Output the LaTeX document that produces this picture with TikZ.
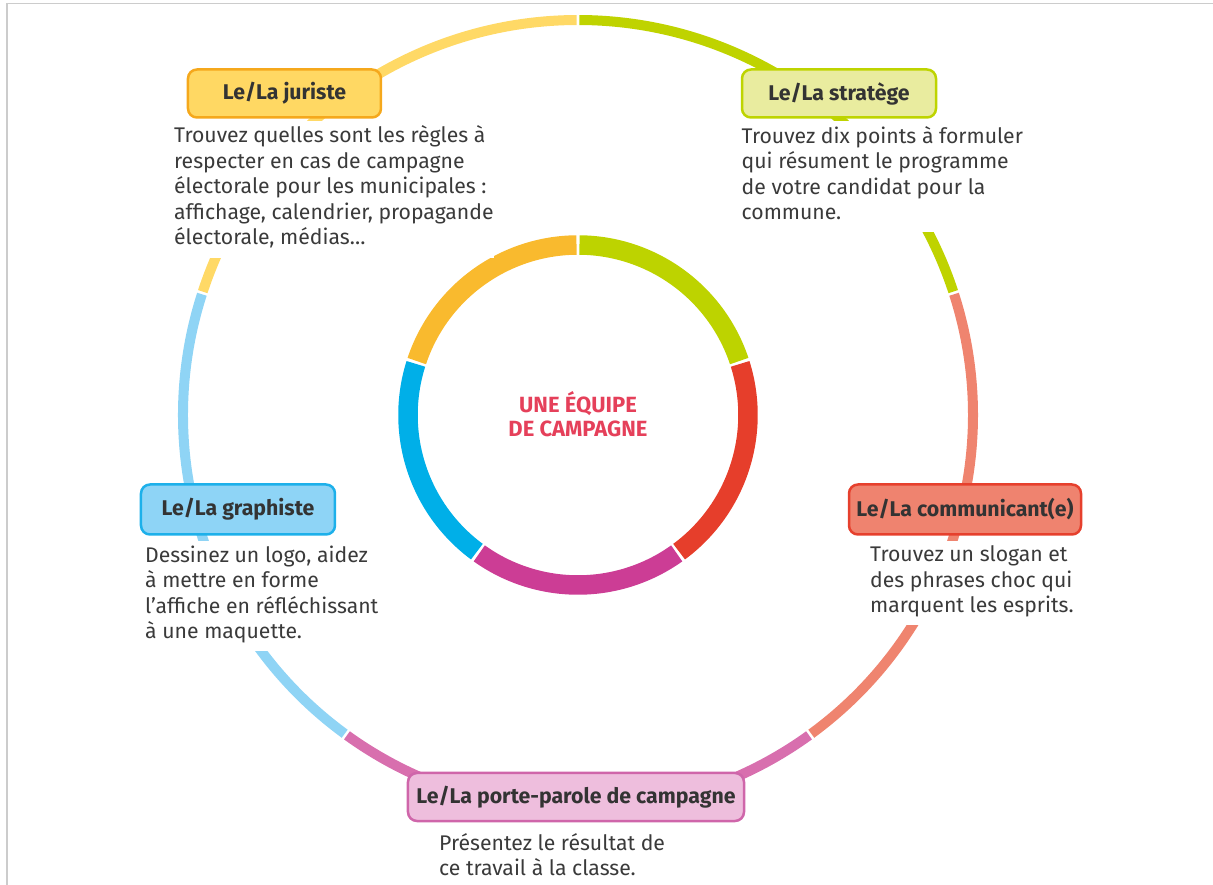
\documentclass[tikz,border=0pt]{standalone}
\usepackage{fontspec}
\setmainfont{Fira Sans}
\usepackage{xcolor}
\usepackage{tikz}
\definecolor{txtdark}{HTML}{333333}
\definecolor{txtbody}{HTML}{3A3A3A}
\definecolor{framegray}{HTML}{CCCCCC}
\definecolor{centred}{HTML}{E5405A}
\definecolor{jurfill}{HTML}{FFD863}
\definecolor{jurline}{HTML}{F5A81C}
\definecolor{strfill}{HTML}{E9EC9F}
\definecolor{strline}{HTML}{BED400}
\definecolor{comfill}{HTML}{EF836F}
\definecolor{comline}{HTML}{E6402D}
\definecolor{grafill}{HTML}{8ED4F6}
\definecolor{graline}{HTML}{1DB0EA}
\definecolor{porfill}{HTML}{EEBEDD}
\definecolor{porline}{HTML}{CF66AA}
\definecolor{ojur}{HTML}{FFD966}
\definecolor{ostr}{HTML}{BFD300}
\definecolor{ocom}{HTML}{EF846F}
\definecolor{opor}{HTML}{D86FAE}
\definecolor{ogra}{HTML}{8FD4F5}
\definecolor{ilime}{HTML}{BDD300}
\definecolor{ired}{HTML}{E63E2B}
\definecolor{imag}{HTML}{CC3D95}
\definecolor{iblue}{HTML}{00AFE8}
\definecolor{iorange}{HTML}{F9BA2E}
\tikzset{
    titlebox/.style = {rectangle, rounded corners=9pt, line width=2.5pt, align=center, text=txtdark, font=\bfseries\fontsize{21.3}{24}\selectfont, minimum height=48pt, inner sep=0pt},
    textblock/.style = {rectangle, fill=white, align=left, anchor=base west, inner xsep=0pt, inner ysep=5pt, text=txtbody, font=\fontsize{21.2}{25.5}\selectfont},
    centrelabel/.style = {align=center, text=centred, font=\bfseries\fontsize{22}{24.5}\selectfont},
}

\begin{document}
\begin{tikzpicture}[
	x=1pt,
	y=1pt
]
\tikzset{
    ringout/.style = {line width=10pt},
    ringin/.style = {line width=19.5pt},
}
\useasboundingbox (-578,-470) rectangle (635,415);
\draw[framegray, line width=1.5pt] (-571,-470) -- (-571,411.7) -- (635,411.7);
\draw[ringout, ostr] (18.2:395) arc[start angle=18.2, end angle=89.8, radius=395];
\draw[ringout, ojur] (90.2:395) arc[start angle=90.2, end angle=161.8, radius=395];
\draw[ringout, ogra] (162.2:395) arc[start angle=162.2, end angle=233.8, radius=395];
\draw[ringout, opor] (234.2:395) arc[start angle=234.2, end angle=305.8, radius=395];
\draw[ringout, ocom] (-53.8:395) arc[start angle=-53.8, end angle=17.8, radius=395];
\draw[ringin, ilime] (18.5:170) arc[start angle=18.5, end angle=89.5, radius=170];
\draw[ringin, iorange] (90.5:170) arc[start angle=90.5, end angle=161.5, radius=170];
\draw[ringin, iblue] (162.5:170) arc[start angle=162.5, end angle=233.5, radius=170];
\draw[ringin, imag] (234.5:170) arc[start angle=234.5, end angle=305.5, radius=170];
\draw[ringin, ired] (-53.5:170) arc[start angle=-53.5, end angle=17.5, radius=170];
\node[centrelabel] at (0,1) (centre) {UNE ÉQUIPE\\DE CAMPAGNE};
\node[titlebox, fill=jurfill, draw=jurline, minimum width=193pt] at (-293.5,321.5) (jur) {Le/La juriste};
\node[titlebox, fill=strfill, draw=strline, minimum width=194pt] at (261,321.5) (str) {Le/La stratège};
\node[titlebox, fill=comfill, draw=comline, minimum width=232pt, minimum height=50pt] at (387,-94.5) (com) {Le/La communicant(e)};
\node[titlebox, fill=grafill, draw=graline, minimum width=194pt, minimum height=50pt] at (-340,-94.5) (gra) {Le/La graphiste};
\node[titlebox, fill=porfill, draw=porline, minimum width=336pt] at (-2,-382) (por) {Le/La porte-parole de campagne};
\node[textblock] at (-404,170) (jurtxt) {Trouvez quelles sont les règles à\\respecter en cas de campagne\\électorale pour les municipales :\\affichage, calendrier, propagande\\électorale, médias…\strut};
\node[textblock] at (163.5,195.2) (strtxt) {Trouvez dix points à formuler\\qui résument le programme\\de votre candidat pour la\\commune.\strut};
\node[textblock] at (292,-197.7) (comtxt) {Trouvez un slogan et\\des phrases choc qui\\marquent les esprits.\strut};
\node[textblock] at (-433,-223.8) (gratxt) {Dessinez un logo, aidez\\à mettre en forme\\l’affiche en réfléchissant\\à une maquette.\strut};
\node[textblock] at (-139,-460.5) (portxt) {Présentez le résultat de\\ce travail à la classe.};

\end{tikzpicture}
\end{document}
